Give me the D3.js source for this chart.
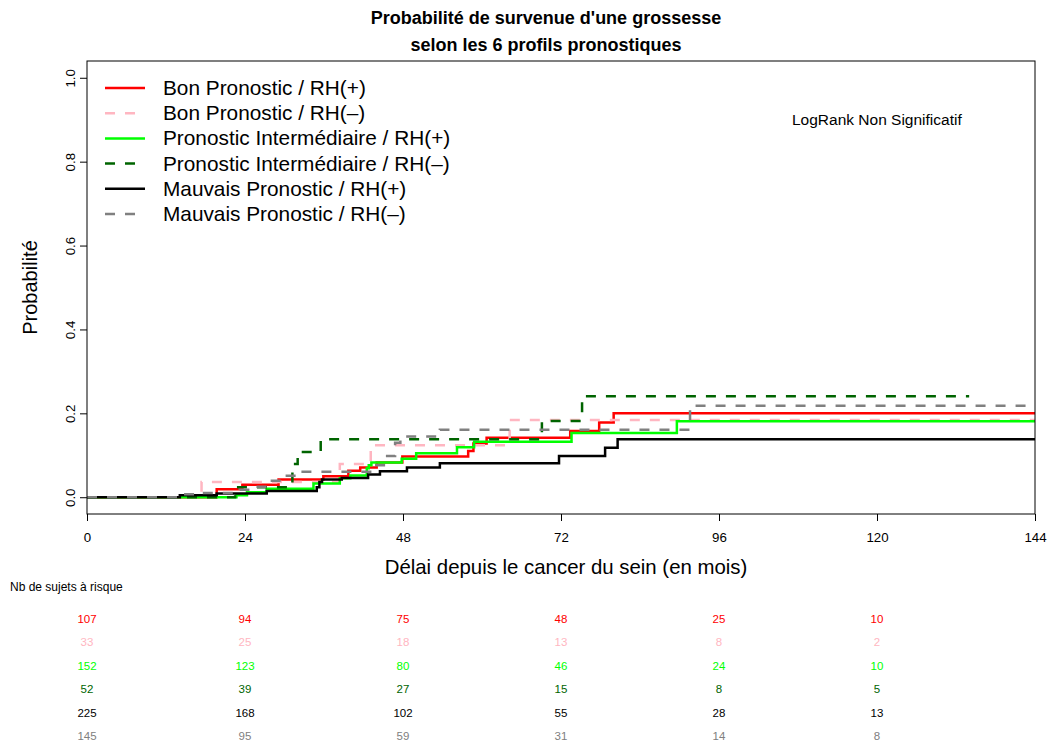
<!DOCTYPE html>
<html><head><meta charset="utf-8">
<script src="https://cdn.jsdelivr.net/npm/d3@7/dist/d3.min.js"></script>
<style>body{margin:0;background:#fff;} text{font-family:"Liberation Sans",Arial,sans-serif;}</style>
</head><body>
<svg id="chart" width="1051" height="747"></svg>
<script>
// ---- data ----
const seriesNames = ["Bon Pronostic / RH(+)","Bon Pronostic / RH(–)","Pronostic Intermédiaire / RH(+)","Pronostic Intermédiaire / RH(–)","Mauvais Pronostic / RH(+)","Mauvais Pronostic / RH(–)"];
const seriesColors = ["#ff0000","#ffb6c1","#00ff00","#006400","#000000","#808080"];
const seriesDashed = [false,true,false,true,false,true];

const timesBonPos = [0,19.7,23.6,29.1,35.9,39.7,41.5,44.0,47.9,57.9,58.7,60.7,73.4,77.8,80.0,144];
const probBonPos  = [0,0.019,0.030,0.042,0.050,0.063,0.071,0.083,0.097,0.110,0.128,0.142,0.158,0.178,0.200,0.200];
const timesBonNeg = [0,17.4,38.4,43.1,64.2,144];
const probBonNeg  = [0,0.036,0.079,0.124,0.184,0.184];
const timesIntPos = [0,22.7,24.3,27.3,34.4,38.4,40.0,42.5,42.8,43.2,47.8,50.0,56.2,58.8,73.6,89.6,144];
const probIntPos  = [0,0.005,0.012,0.020,0.033,0.045,0.052,0.069,0.076,0.083,0.092,0.105,0.119,0.132,0.153,0.181,0.181];
const timesIntNeg = [0,22.5,31.2,32.0,35.5,69.1,75.2,134];
const probIntNeg  = [0,0.024,0.079,0.108,0.138,0.182,0.241,0.241];
const timesMauvPos = [0,14.1,19.7,27.3,34.9,35.3,35.7,38.7,42.7,44.5,48.6,53.6,71.7,78.7,80.6,144];
const probMauvPos  = [0,0.005,0.009,0.015,0.024,0.036,0.042,0.046,0.054,0.062,0.071,0.081,0.098,0.118,0.138,0.138];
const timesMauvNeg = [0,14.0,17.0,23.2,25.5,27.5,29.5,31.5,43.7,45.3,46.8,47.6,53.6,91.6,144];
const probMauvNeg  = [0,0.007,0.010,0.018,0.025,0.039,0.051,0.061,0.076,0.098,0.130,0.145,0.161,0.218,0.218];

const xTicks = [0,24,48,72,96,120,144];
const yTicks = [0,0.2,0.4,0.6,0.8,1.0];
const riskTimes = [0,24,48,72,96,120];
const riskBonPos  = [107,94,75,48,25,10];
const riskBonNeg  = [33,25,18,13,8,2];
const riskIntPos  = [152,123,80,46,24,10];
const riskIntNeg  = [52,39,27,15,8,5];
const riskMauvPos = [225,168,102,55,28,13];
const riskMauvNeg = [145,95,59,31,14,8];

const allTimes = [timesBonPos,timesBonNeg,timesIntPos,timesIntNeg,timesMauvPos,timesMauvNeg];
const allProbs = [probBonPos,probBonNeg,probIntPos,probIntNeg,probMauvPos,probMauvNeg];
const allRisk  = [riskBonPos,riskBonNeg,riskIntPos,riskIntNeg,riskMauvPos,riskMauvNeg];

// ---- layout ----
const svg = d3.select("#chart");
const L = 87, R = 1035, T = 61, B = 514;
const x = d3.scaleLinear().domain([0,144]).range([L,R]);
const y = d3.scaleLinear().domain([-0.04,1.04]).range([B,T]);

// curves
const line = d3.line().x(d=>x(d[0])).y(d=>y(d[1])).curve(d3.curveStepAfter);
allTimes.forEach((ts,i)=>{
  const pts = ts.map((t,j)=>[t,allProbs[i][j]]);
  svg.append("path").attr("d",line(pts)).attr("fill","none")
    .attr("stroke",seriesColors[i]).attr("stroke-width",2.5)
    .attr("stroke-dasharray",seriesDashed[i]?"10,10":null);
});

// box
svg.append("rect").attr("x",L).attr("y",T).attr("width",R-L).attr("height",B-T)
  .attr("fill","none").attr("stroke","#000").attr("stroke-width",1);

// x axis
const gx = svg.append("g").attr("transform",`translate(0,${B})`)
  .call(d3.axisBottom(x).tickValues(xTicks).tickSize(7).tickSizeOuter(0).tickFormat(d3.format("d")));
gx.select(".domain").remove();
gx.selectAll("text").attr("y",28).attr("dy",0).attr("font-size","13.3px").attr("fill","#000").attr("font-family","Liberation Sans, Arial, sans-serif");

// y axis
const gy = svg.append("g").attr("transform",`translate(${L},0)`)
  .call(d3.axisLeft(y).tickValues(yTicks).tickSize(7).tickSizeOuter(0).tickFormat(d3.format(".1f")));
gy.select(".domain").remove();
gy.selectAll("text").attr("transform","rotate(-90)").attr("x",0).attr("y",-12).attr("dy",0)
  .attr("text-anchor","middle").attr("font-size","13.3px").attr("fill","#000").attr("font-family","Liberation Sans, Arial, sans-serif");

// titles
svg.append("text").attr("x",546).attr("y",24).attr("text-anchor","middle")
  .attr("font-weight","bold").attr("font-size","18px").text("Probabilité de survenue d'une grossesse");
svg.append("text").attr("x",546).attr("y",51).attr("text-anchor","middle")
  .attr("font-weight","bold").attr("font-size","18px").text("selon les 6 profils pronostiques");
svg.append("text").attr("x",566).attr("y",574).attr("text-anchor","middle")
  .attr("font-size","20.4px").text("Délai depuis le cancer du sein (en mois)");
svg.append("text").attr("transform",`translate(37,${(T+B)/2}) rotate(-90)`).attr("text-anchor","middle")
  .attr("font-size","20px").text("Probabilité");
svg.append("text").attr("x",792).attr("y",125).attr("font-size","15.5px").text("LogRank Non Significatif");

// legend
seriesNames.forEach((n,i)=>{
  const cy = 88 + i*25.2;
  svg.append("line").attr("x1",105).attr("x2",145).attr("y1",cy).attr("y2",cy)
    .attr("stroke",seriesColors[i]).attr("stroke-width",2.5)
    .attr("stroke-dasharray",seriesDashed[i]?"10,10":null);
  svg.append("text").attr("x",163).attr("y",cy+7).attr("font-size","20.8px").text(n);
});

// risk table
svg.append("text").attr("x",10).attr("y",591).attr("font-size","12px").text("Nb de sujets à risque");
allRisk.forEach((row,i)=>{
  row.forEach((v,j)=>{
    svg.append("text").attr("x",x(riskTimes[j])).attr("y",623+i*23.4).attr("text-anchor","middle")
      .attr("font-size","11.5px").attr("fill",seriesColors[i]).text(v);
  });
});
</script>
</body></html>
